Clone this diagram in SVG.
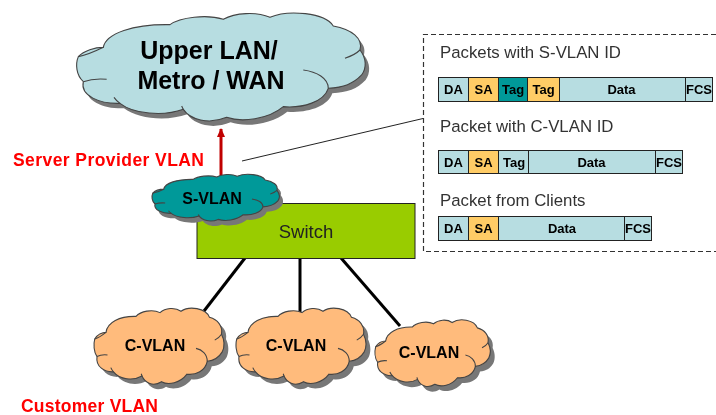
<svg xmlns="http://www.w3.org/2000/svg" width="716" height="415" viewBox="0 0 716 415">
<style>
text{font-family:"Liberation Sans",Arial,sans-serif;fill:#000}
.b{font-weight:bold}
.m{text-anchor:middle}
.cell{font-size:13px;font-weight:bold;text-anchor:middle}
.title{font-size:16.8px;fill:#333}
.red{font-weight:bold;fill:#ff0000;font-size:17.5px}
.np{vector-effect:non-scaling-stroke}
.shadow{fill:#777;stroke:none}
.body{stroke:#444;stroke-width:1.1}
.fold{fill:none;stroke:#444;stroke-width:1.1}
.blue{fill:#b7dde1}.orange{fill:#ffcc66}.teal{fill:#009999}.peach{fill:#ffbb7c}
.c rect{stroke:#222;stroke-width:1}
.conn{stroke:#000;stroke-width:3;fill:none}
</style>
<defs>
<filter id="soft" x="0" y="0" width="716" height="415" filterUnits="userSpaceOnUse"><feGaussianBlur stdDeviation="0.45"/></filter>
<path id="co" class="np" d="M310,142C318,100 400,72 510,74C540,52 620,42 670,58C705,38 770,34 810,52C865,28 975,38 1000,78C1055,88 1090,115 1080,150C1100,175 1100,205 1085,225C1060,252 1030,262 985,265C972,305 910,325 850,320C805,358 725,368 680,352C625,375 570,358 550,328C490,350 400,342 360,310C300,312 240,288 250,245C228,225 226,192 235,170C252,152 285,142 310,142Z"/>
<path id="cf" class="np" d="M1035,175C1055,168 1070,160 1080,150M910,210C950,215 985,235 985,265M550,328C548,325 547,322 545,318M360,310C352,304 346,298 342,292M250,245C270,238 295,236 320,238M235,170C260,165 290,152 310,142"/>
<marker id="ah" markerUnits="userSpaceOnUse" markerWidth="10" markerHeight="8" refX="8" refY="4" orient="auto"><path d="M0,0L9,4L0,8Z" fill="#c00000"/></marker>
</defs>
<g filter="url(#soft)">
<g id="connectors">
<line class="conn" x1="245" y1="258" x2="204" y2="311"/>
<line class="conn" x1="300" y1="258" x2="300" y2="313"/>
<line class="conn" x1="341" y1="258" x2="400" y2="326"/>
<line x1="221" y1="176" x2="221" y2="129" stroke="#c00000" stroke-width="3" marker-end="url(#ah)"/>
<line x1="242" y1="161" x2="423" y2="118.500" stroke="#222" stroke-width="1"/>
</g>

<g id="switch">
<rect x="197" y="203.500" width="218" height="55" fill="#99cc00" stroke="#222" stroke-width="1"/>
<text class="m" x="306" y="238" font-size="18.500" style="fill:#222">Switch</text>
</g>

<g id="upper-cloud">
<g transform="translate(4,5) scale(.3333)"><use href="#co" class="shadow"/></g>
<g transform="scale(.3333)"><use href="#co" class="blue body"/><use href="#cf" class="fold"/></g>
<text class="b m" x="209" y="59" font-size="25">Upper LAN/</text>
<text class="b m" x="211" y="89" font-size="25">Metro / WAN</text>
</g>

<g id="s-vlan">
<g transform="translate(122,173.700) scale(.147,.144)"><use href="#co" class="shadow"/></g>
<g transform="translate(118.200,168.700) scale(.147,.144)"><use href="#co" class="teal body"/><use href="#cf" class="fold"/></g>
<text class="b m" x="212" y="204" font-size="16">S-VLAN</text>
</g>

<g id="c-vlan-1">
<g transform="translate(64,304) scale(.15,.235)"><use href="#co" class="shadow"/></g>
<g transform="translate(59.500,299) scale(.15,.235)"><use href="#co" class="peach body"/><use href="#cf" class="fold"/></g>
<text class="b m" x="155" y="351" font-size="16">C-VLAN</text>
</g>
<g id="c-vlan-2">
<g transform="translate(206,304) scale(.15,.235)"><use href="#co" class="shadow"/></g>
<g transform="translate(201.500,299) scale(.15,.235)"><use href="#co" class="peach body"/><use href="#cf" class="fold"/></g>
<text class="b m" x="296" y="351" font-size="16">C-VLAN</text>
</g>
<g id="c-vlan-3">
<g transform="translate(349,317) scale(.133,.206)"><use href="#co" class="shadow"/></g>
<g transform="translate(344.400,311.800) scale(.133,.206)"><use href="#co" class="peach body"/><use href="#cf" class="fold"/></g>
<text class="b m" x="429" y="358" font-size="16">C-VLAN</text>
</g>

<text class="red" x="13" y="166" textLength="191" lengthAdjust="spacing">Server Provider VLAN</text>
<text class="red" x="21" y="412" textLength="137" lengthAdjust="spacing">Customer VLAN</text>

<g id="packet-panel">
<path d="M716,34.500H423.500V251.500H716" fill="none" stroke="#333" stroke-width="1.200" stroke-dasharray="5 3"/>
<text class="title" x="440" y="58">Packets with S-VLAN ID</text>
<text class="title" x="440" y="132">Packet with C-VLAN ID</text>
<text class="title" x="440" y="206">Packet from Clients</text>
</g>

<g id="packet-s" class="c">
<rect class="blue" x="438.500" y="77.500" width="30" height="24"/>
<rect class="orange" x="468.500" y="77.500" width="30" height="24"/>
<rect class="teal" x="498.500" y="77.500" width="29" height="24"/>
<rect class="orange" x="527.500" y="77.500" width="32" height="24"/>
<rect class="blue" x="559.500" y="77.500" width="126" height="24"/>
<rect class="blue" x="685.500" y="77.500" width="27" height="24"/>
<text class="cell" x="453.500" y="94">DA</text>
<text class="cell" x="483.500" y="94">SA</text>
<text class="cell" x="513" y="94">Tag</text>
<text class="cell" x="543.500" y="94">Tag</text>
<text class="cell" x="621.500" y="94">Data</text>
<text class="cell" x="699" y="94">FCS</text>
</g>

<g id="packet-c" class="c">
<rect class="blue" x="438.500" y="150.500" width="30" height="23"/>
<rect class="orange" x="468.500" y="150.500" width="30" height="23"/>
<rect class="blue" x="498.500" y="150.500" width="30" height="23"/>
<rect class="blue" x="528.500" y="150.500" width="127" height="23"/>
<rect class="blue" x="655.500" y="150.500" width="27" height="23"/>
<text class="cell" x="453.500" y="167">DA</text>
<text class="cell" x="483.500" y="167">SA</text>
<text class="cell" x="514" y="167">Tag</text>
<text class="cell" x="591.500" y="167">Data</text>
<text class="cell" x="669" y="167">FCS</text>
</g>

<g id="packet-client" class="c">
<rect class="blue" x="438.500" y="216.500" width="30" height="24"/>
<rect class="orange" x="468.500" y="216.500" width="30" height="24"/>
<rect class="blue" x="498.500" y="216.500" width="126" height="24"/>
<rect class="blue" x="624.500" y="216.500" width="27" height="24"/>
<text class="cell" x="453.500" y="233">DA</text>
<text class="cell" x="483.500" y="233">SA</text>
<text class="cell" x="562" y="233">Data</text>
<text class="cell" x="638" y="233">FCS</text>
</g>
</g>
</svg>
